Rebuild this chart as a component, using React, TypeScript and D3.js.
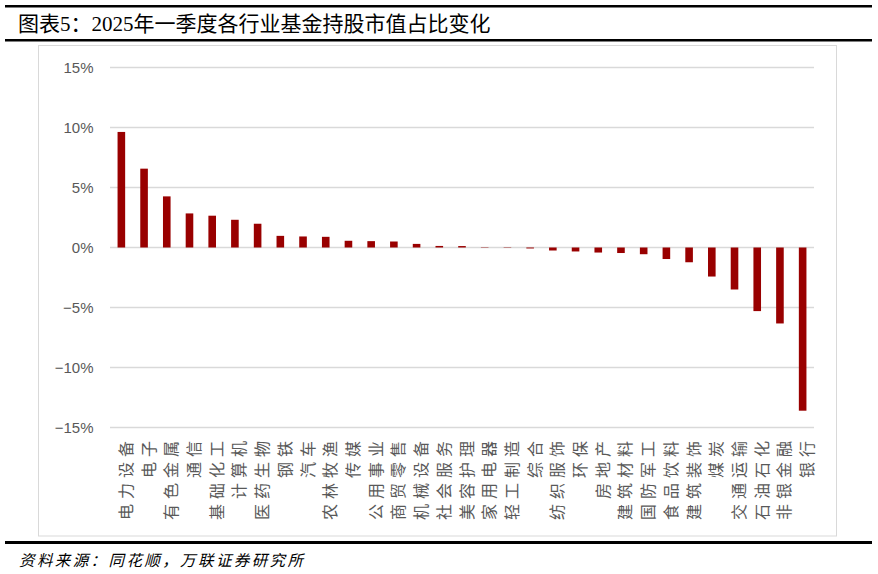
import React from "react";
import * as d3 from "d3";

const categories = [
  "电力设备", "电子", "有色金属", "通信", "基础化工", "计算机", "医药生物", "钢铁", "汽车", "农林牧渔",
  "传媒", "公用事业", "商贸零售", "机械设备", "社会服务", "美容护理", "家用电器", "轻工制造", "综合", "纺织服饰",
  "环保", "房地产", "建筑材料", "国防军工", "食品饮料", "建筑装饰", "煤炭", "交通运输", "石油石化", "非银金融", "银行",
];
const values = [
  9.63, 6.57, 4.26, 2.84, 2.65, 2.31, 1.98, 0.97, 0.92, 0.89,
  0.56, 0.53, 0.5, 0.3, 0.13, 0.12, 0.03, -0.03, -0.08, -0.25,
  -0.33, -0.42, -0.46, -0.56, -0.96, -1.23, -2.42, -3.5, -5.3, -6.33, -13.6,
];
const yTicks = [15, 10, 5, 0, -5, -10, -15];
const title = "图表5：2025年一季度各行业基金持股市值占比变化";
const source = "资料来源：同花顺，万联证券研究所";

const W = 878;
const H = 574;

export default function App() {
  const x = d3.scaleBand<string>().domain(categories).range([110, 814]);
  const y = d3.scaleLinear().domain([-15, 15]).range([427.5, 67.5]);
  const center = (c: string) => (x(c) ?? 0) + x.bandwidth() / 2;
  const bw = 7.6;
  const labelFont = '"Noto Sans CJK SC", sans-serif';

  return (
    <div style={{ position: "absolute", left: 0, top: 0 }}>
      <svg width={W} height={H} style={{ display: "block", background: "#fff" }}>
        {/* top rules */}
        <line x1={5} x2={872} y1={6.2} y2={6.2} stroke="#000" strokeWidth={2.6} />
        <line x1={5} x2={872} y1={40.2} y2={40.2} stroke="#000" strokeWidth={2.6} />
        <text x={18} y={31} fontSize={21} fill="#000" style={{ fontFamily: '"Liberation Serif", "Noto Sans CJK SC", serif' }}>
          {title}
        </text>
        {/* chart frame */}
        <rect x={38.5} y={45.5} width={798} height={490.5} fill="#fff" stroke="#d9d9d9" strokeWidth={1} />
        {/* gridlines */}
        {yTicks.map((t) => (
          <g key={t}>
            <line x1={110} x2={814} y1={y(t)} y2={y(t)} stroke="#d9d9d9" strokeWidth={1.5} />
            <text
              x={93.5}
              y={y(t)}
              textAnchor="end"
              dominantBaseline="central"
              fontSize={15}
              fill="#595959"
              style={{ fontFamily: '"Liberation Sans", Arial, sans-serif' }}
            >
              {t === 0 ? "0%" : t < 0 ? `\u2212${Math.abs(t)}%` : `${t}%`}
            </text>
          </g>
        ))}
        {/* bars */}
        {categories.map((c, i) => {
          const v = values[i];
          const y0 = y(0);
          const y1 = y(v);
          return (
            <rect
              key={c}
              x={center(c) - bw / 2}
              y={Math.min(y0, y1)}
              width={bw}
              height={Math.max(Math.abs(y1 - y0), 0.3)}
              fill="#990000"
            />
          );
        })}
        {/* x labels */}
        {categories.map((c) => (
          <text
            key={c}
            transform={`translate(${center(c) + 3.5},${436}) rotate(-90)`}
            textAnchor="end"
            dominantBaseline="central"
            fontSize={16}
            fill="#595959"
            style={{ fontFamily: labelFont, letterSpacing: "5px" }}
          >
            {c}
          </text>
        ))}
        {/* bottom rule */}
        <line x1={5} x2={872} y1={542.5} y2={542.5} stroke="#000" strokeWidth={3} />
        <text
          x={19}
          y={566}
          fontSize={15.5}
          fontStyle="italic"
          fill="#000"
          style={{ fontFamily: '"Noto Sans CJK SC", sans-serif', letterSpacing: "2.4px" }}
        >
          {source}
        </text>
      </svg>
    </div>
  );
}
